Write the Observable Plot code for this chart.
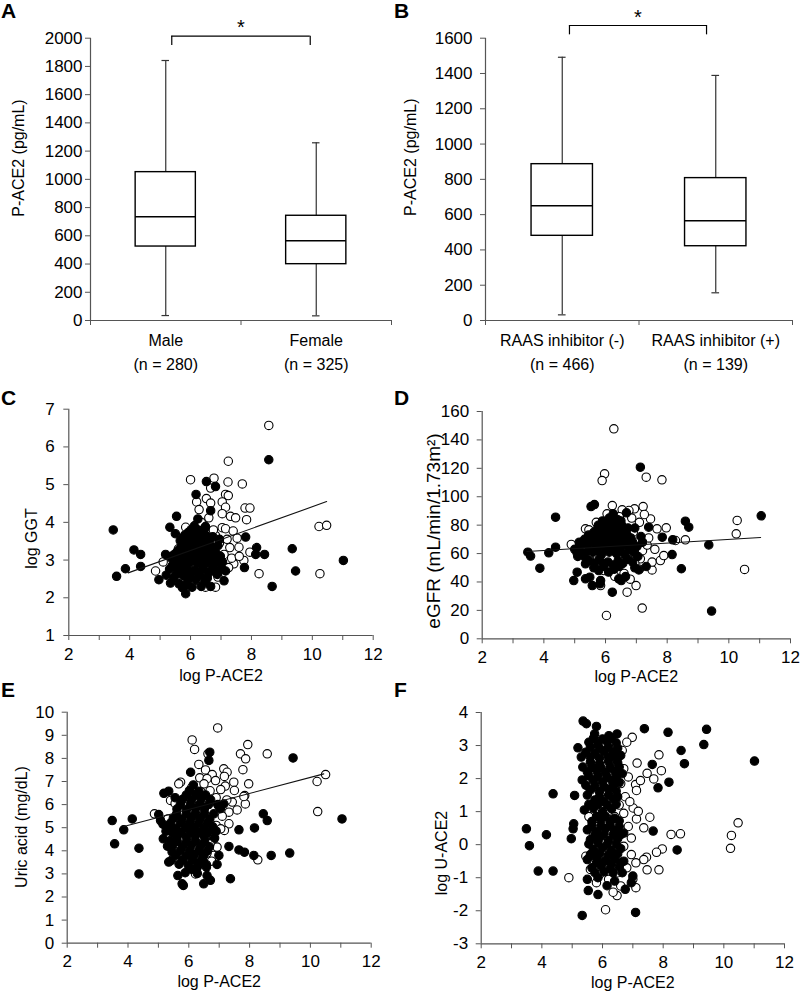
<!DOCTYPE html>
<html><head><meta charset="utf-8">
<script src="https://cdn.jsdelivr.net/npm/d3@7"></script>
<script src="https://cdn.jsdelivr.net/npm/@observablehq/plot@0.6"></script>
<style>
body{margin:0;background:#fff;}
#fig{position:relative;width:800px;height:994px;background:#fff;font-family:"Liberation Sans",Arial,sans-serif;}
.panel{position:absolute;}
.letter{position:absolute;font-weight:bold;font-size:21px;line-height:21px;color:#000;}
</style></head><body><div id="fig"></div>
<script>
// ---------- Panel A: P-ACE2 by sex ----------
const sexGroups = ["Male", "Female"];
const sexN = ["(n = 280)", "(n = 325)"];
const sexMin = [35, 33];
const sexQ1 = [524, 399];
const sexMed = [735, 565];
const sexQ3 = [1051, 742];
const sexMax = [1842, 1259];
const yTicksA = [0, 200, 400, 600, 800, 1000, 1200, 1400, 1600, 1800, 2000];

// ---------- Panel B: P-ACE2 by RAAS inhibitor ----------
const raasGroups = ["RAAS inhibitor (-)", "RAAS inhibitor (+)"];
const raasN = ["(n = 466)", "(n = 139)"];
const raasMin = [32, 157];
const raasQ1 = [480, 421];
const raasMed = [650, 565];
const raasQ3 = [886, 807];
const raasMax = [1492, 1389];
const yTicksB = [0, 200, 400, 600, 800, 1000, 1200, 1400, 1600];

// ---------- Scatter common ----------
const xTicks = [2, 3, 4, 5, 6, 7, 8, 9, 10, 11, 12];

// Panel C: log GGT vs log P-ACE2
const cOpen = [[8.57,6.57],[7.24,5.62],[6.00,5.13],[6.77,5.17],[6.66,4.91],[7.23,5.07],[7.70,5.02],[7.15,4.74],[7.24,4.71],[6.52,4.63],[6.20,4.54],[6.66,4.51],[7.04,4.54],[6.28,4.34],[7.15,4.40],[7.79,4.38],[7.95,4.38],[7.04,4.23],[7.31,4.16],[7.48,4.12],[7.84,4.07],[6.60,4.12],[5.84,3.87],[6.16,3.92],[7.04,3.86],[7.15,3.83],[7.40,3.77],[10.22,3.89],[10.47,3.92],[7.53,3.58],[6.82,3.65],[7.95,3.21],[7.59,3.34],[7.29,3.33],[4.85,2.71],[7.42,2.90],[7.75,2.99],[10.25,2.64],[8.25,2.64],[6.49,2.28],[6.82,2.28],
[6.95,3.45],[7.10,3.15],[6.90,3.00],[7.20,3.55],[6.75,3.80],[7.00,2.75],[6.40,3.75],[6.10,3.60],[5.60,3.30],[5.40,3.10],[5.75,2.55],[6.25,2.45],[7.25,2.80],[6.55,3.30],[7.35,3.05],[5.10,2.95],[6.90,2.55],[7.60,3.10],[6.35,4.00]];
const cFilled = [[8.57,5.66],[6.52,5.08],[6.82,4.95],[6.18,4.74],[6.66,4.31],[5.54,4.16],[6.24,4.09],[3.46,3.80],[5.32,3.87],[6.49,3.89],[7.81,3.61],[4.14,3.27],[4.36,3.15],[9.34,3.30],[11.02,2.99],[8.17,3.33],[8.43,3.15],[8.14,3.15],[5.18,3.15],[4.36,2.83],[3.86,2.77],[3.57,2.57],[7.15,2.71],[7.77,2.80],[9.45,2.71],[8.68,2.30],[4.96,2.48],[5.34,2.39],[5.62,2.37],[5.84,2.11],[5.73,2.27],[6.35,2.30],[6.66,2.30],[6.05,2.28],[5.84,2.33],
[5.92,2.45],[6.18,2.48],[6.47,2.43],[5.52,2.62],[5.77,2.58],[6.02,2.63],[6.31,2.60],[6.58,2.64],[6.88,2.62],[5.31,2.76],[5.58,2.74],[5.86,2.78],[6.12,2.73],[6.41,2.77],[6.69,2.75],[7.02,2.78],[5.46,2.91],[5.71,2.88],[5.97,2.93],[6.23,2.90],[6.52,2.92],[6.79,2.89],[5.36,3.06],[5.62,3.04],[5.84,3.08],[6.11,3.03],[6.37,3.07],[6.61,3.05],[6.88,3.02],[5.55,3.21],[5.82,3.19],[6.06,3.23],[6.31,3.20],[6.56,3.22],[6.84,3.18],[5.72,3.36],[5.96,3.34],[6.21,3.37],[6.46,3.35],[6.72,3.33],[5.66,3.51],[5.91,3.49],[6.16,3.52],[6.41,3.50],[6.63,3.53],[5.81,3.66],[6.06,3.64],[6.32,3.68],[6.54,3.63],[6.02,3.81],[6.27,3.79],[6.47,3.84],
[5.45,2.53],[5.65,2.68],[5.95,2.70],[6.27,2.68],[6.55,2.52],[6.80,2.70],[7.05,2.95],[5.52,2.98],[5.78,2.97],[6.05,2.99],[6.35,2.98],[6.70,2.97],[6.98,3.10],[5.45,3.14],[5.70,3.13],[5.97,3.13],[6.24,3.12],[6.49,3.14],[6.75,3.11],[5.62,3.28],[5.86,3.27],[6.10,3.28],[6.37,3.28],[6.60,3.28],[6.90,3.38],[5.78,3.43],[6.05,3.43],[6.30,3.43],[6.55,3.44],[5.75,3.59],[6.00,3.57],[6.24,3.59],[6.50,3.58],[6.73,3.62],[5.92,3.73],[6.18,3.72],[6.42,3.73],[6.12,3.90],[5.50,3.70],[5.40,2.85],[5.20,2.60],[7.10,2.45],[6.95,3.55]];
const cFit = [[3.95,2.66],[10.47,4.55]];
const yTicksC = [1, 2, 3, 4, 5, 6, 7];

// Panel D: eGFR vs log P-ACE2
const dOpen = [[6.27,147.8],[5.97,116.1],[5.89,111.4],[7.32,113.8],[7.83,111.9],[10.27,83.3],[10.24,73.9],[8.59,69.7],[8.27,69.2],[10.51,48.8],[6.03,16.4],[7.19,21.6],[6.99,37.5],[6.70,32.8],[4.89,66.4],[5.84,37.5],[7.51,48.5],[7.13,56.3],[7.51,54.0],[7.78,55.1],[7.89,58.6],[7.67,77.4],[7.97,78.1],[7.46,84.4],[7.22,93.1],[7.26,87.5],[6.94,91.5],[6.76,90.3],[6.54,90.8],[6.22,93.8],[5.35,77.4],[5.46,76.7],
[6.90,75],[7.10,82],[7.00,68],[7.20,62],[6.85,85],[5.55,72],[7.35,66],[6.95,53],[7.10,49],[6.60,46],[6.30,44],[5.95,48],[7.40,71],[6.45,86],[6.05,88],[5.75,57],[7.60,63],[6.80,42],[5.70,82],[6.95,60]];
const dFilled = [[7.13,120.8],[5.53,93.1],[5.64,94.5],[4.38,85.6],[11.05,86.6],[8.59,82.8],[8.70,78.6],[8.18,69.7],[7.84,71.5],[9.35,66.1],[8.46,49.3],[8.16,59.3],[9.44,19.5],[6.22,32.8],[3.48,61.0],[3.57,58.2],[3.87,49.7],[4.16,60.5],[4.38,64.5],[5.08,60.3],[4.97,41.0],[5.08,46.9],[5.35,52.8],[5.35,42.2],[5.49,43.4],[5.57,37.5],[5.84,41.0],[5.82,38.7],[6.43,42.2],[6.51,41.0],[6.65,43.8],[7.08,48.5],[7.32,50.9],[7.40,78.6],[6.68,88.7],
[5.62,50],[5.93,51],[6.28,49],[5.48,55],[5.79,56],[6.08,54],[6.41,55],[6.72,56],[5.28,60],[5.58,61],[5.86,59],[6.12,61],[6.36,60],[6.63,59],[6.91,61],[5.18,65],[5.43,66],[5.71,64],[5.96,66],[6.21,65],[6.47,64],[6.73,66],[7.02,65],[5.32,70],[5.57,71],[5.82,69],[6.06,71],[6.31,70],[6.56,69],[6.82,71],[5.62,75],[5.87,76],[6.11,74],[6.36,75],[6.61,76],[5.77,80],[6.02,81],[6.27,79],[6.52,80],[6.12,85],[6.38,84],[5.00,63],[5.15,68],[7.15,72],[6.95,78],[7.05,58],
[5.78,48],[6.10,47],[6.45,51],[5.35,57],[5.65,53],[5.95,53],[6.25,52],[6.56,53],[6.88,54],[5.45,62],[5.72,62],[5.99,63],[6.25,62],[6.50,62],[6.78,63],[5.30,67],[5.58,68],[5.84,67],[6.09,68],[6.34,67],[6.60,67],[6.88,68],[5.45,73],[5.70,73],[5.95,73],[6.20,72],[6.45,73],[6.70,73],[5.75,78],[6.00,78],[6.24,77],[6.48,78],[6.73,78],[5.90,83],[6.20,82],[6.50,83],[6.25,88],[5.10,58],[6.95,50],[7.20,68]];
const dFit = [[3.45,61.5],[11.03,71.3]];
const yTicksD = [0, 20, 40, 60, 80, 100, 120, 140, 160];

// Panel E: uric acid vs log P-ACE2
const eOpen = [[6.95,9.32],[6.11,8.80],[6.19,8.39],[6.63,8.20],[7.94,8.60],[7.70,8.20],[7.87,7.98],[8.58,8.20],[10.50,7.30],[10.22,7.00],[10.24,5.70],[7.78,7.51],[7.97,6.90],[7.84,6.39],[7.86,6.03],[8.27,3.61],[4.87,5.60],[6.22,3.00],[6.82,3.80],[5.73,6.97],[5.67,6.90],[6.33,7.74],[6.55,7.50],[6.77,7.30],[7.15,7.55],[7.26,7.40],[6.36,7.16],[6.60,7.12],[6.88,7.04],[7.17,7.22],[7.48,6.97],[7.50,6.61],[7.43,6.11],[7.59,5.77],[7.32,5.67],[7.81,6.35],[7.32,5.17],[7.17,4.88],[6.82,4.52],[6.93,4.16],[5.40,6.18],[5.31,5.38],
[6.50,6.90],[6.70,6.60],[6.90,6.30],[7.00,5.90],[7.10,5.50],[6.90,5.10],[6.80,4.70],[6.70,4.30],[6.60,3.90],[6.45,3.60],[6.25,3.25],[5.90,6.35],[5.55,6.05],[7.20,6.80],[7.05,6.65],[6.40,6.55],[6.10,6.75],[7.25,6.20],[7.05,4.95],[6.75,3.55]];
const eFilled = [[6.69,8.27],[6.66,7.91],[9.43,8.02],[11.04,5.38],[8.45,5.60],[8.58,5.31],[8.16,4.99],[7.65,4.91],[7.32,4.19],[7.65,4.04],[7.83,3.94],[8.14,3.80],[8.71,3.80],[9.32,3.90],[7.37,2.79],[3.48,5.31],[4.14,5.38],[3.86,4.91],[3.56,4.30],[4.36,4.11],[4.36,3.00],[5.01,5.57],[5.07,5.31],[5.16,4.52],[5.42,3.58],[5.34,3.51],[5.64,2.93],[5.78,2.57],[5.82,2.50],[6.49,2.57],[6.71,2.72],[6.28,3.29],[6.58,3.29],[6.60,2.93],[6.93,3.41],[6.99,3.80],[5.18,6.49],[5.34,6.58],[6.06,7.40],[7.15,6.03],[7.04,5.82],
[5.88,3.05],[6.28,3.02],[5.68,3.42],[5.98,3.38],[6.31,3.44],[6.58,3.40],[5.58,3.81],[5.91,3.78],[6.19,3.83],[6.49,3.79],[5.47,4.22],[5.79,4.18],[6.08,4.23],[6.38,4.20],[6.68,4.17],[5.62,4.61],[5.93,4.58],[6.21,4.63],[6.52,4.60],[5.31,5.02],[5.58,4.98],[5.89,5.03],[6.18,5.00],[6.48,4.97],[6.79,5.04],[5.49,5.41],[5.78,5.38],[6.09,5.43],[6.39,5.40],[6.69,5.37],[5.61,5.81],[5.92,5.78],[6.22,5.83],[6.51,5.80],[5.79,6.22],[6.08,6.19],[6.41,6.24],[6.72,6.21],[6.02,6.61],[6.33,6.58],[5.25,4.85],[5.45,3.95],[6.85,4.55],[6.95,6.00],[5.40,4.45],
[6.10,3.20],[5.80,3.60],[6.12,3.60],[6.42,3.60],[5.72,4.00],[6.03,4.00],[6.33,4.01],[6.60,3.98],[5.62,4.41],[5.93,4.40],[6.22,4.42],[6.52,4.40],[5.45,4.80],[5.76,4.80],[6.06,4.81],[6.35,4.79],[6.65,4.80],[5.40,5.20],[5.72,5.21],[6.02,5.20],[6.32,5.21],[6.62,5.19],[5.60,5.60],[5.92,5.60],[6.22,5.62],[6.52,5.60],[6.82,5.60],[5.72,6.00],[6.05,6.00],[6.35,6.02],[6.65,6.00],[5.92,6.42],[6.22,6.40],[6.55,6.42],[6.15,6.85],[5.15,5.15],[5.30,4.20],[6.90,4.85],[5.55,6.30]];
const eFit = [[3.86,5.05],[10.44,7.33]];
const yTicksE = [0, 1, 2, 3, 4, 5, 6, 7, 8, 9, 10];

// Panel F: log U-ACE2 vs log P-ACE2
const fOpen = [[6.98,3.25],[7.86,2.72],[7.94,2.24],[7.69,1.99],[7.47,2.16],[7.14,2.47],[7.09,1.82],[7.12,1.64],[7.25,1.94],[5.55,1.99],[7.56,0.83],[7.36,0.51],[7.12,0.78],[7.01,1.11],[7.18,1.01],[8.26,0.31],[8.57,0.33],[10.47,0.66],[10.25,0.28],[10.22,-0.11],[7.97,-0.13],[7.78,-0.23],[7.45,-0.38],[7.36,-0.45],[7.86,-0.76],[7.47,-0.76],[4.89,-1.00],[6.48,-1.54],[6.35,-1.44],[6.10,-1.97],
[6.80,3.10],[6.65,2.85],[6.70,2.30],[6.85,2.05],[6.60,1.85],[6.75,1.45],[6.55,1.20],[6.90,1.30],[6.70,0.95],[5.55,0.85],[5.85,0.55],[5.70,0.30],[6.85,0.55],[6.95,0.20],[6.70,-0.05],[6.95,-0.30],[7.10,-0.55],[6.80,-0.70],[6.50,-0.85],[6.20,-1.05],[5.90,-0.90],[5.60,-0.75],[5.45,-0.35],[5.80,-1.15],[6.60,-1.25],[7.00,-1.05],[7.10,-1.30],[6.30,-0.40],[5.95,0.10],[6.40,0.85]];
const fFilled = [[5.36,3.74],[5.47,3.66],[5.80,3.58],[5.19,2.93],[6.21,3.30],[6.48,3.35],[5.74,3.35],[7.38,3.51],[8.16,3.40],[9.43,3.49],[9.34,3.03],[11.01,2.53],[8.59,2.85],[8.70,2.45],[8.19,1.89],[7.64,2.43],[7.83,1.72],[4.37,1.54],[5.08,1.49],[5.33,1.96],[7.67,0.41],[8.46,-0.16],[3.49,0.48],[4.15,0.30],[3.59,-0.03],[4.97,0.18],[5.05,0.63],[5.03,0.48],[3.88,-0.80],[4.37,-0.80],[5.53,-1.39],[5.85,-1.51],[6.15,-1.24],[7.09,-2.05],[5.33,-2.14],
[5.55,3.10],[5.85,3.05],[6.15,3.12],[6.45,3.08],[5.45,2.80],[5.75,2.75],[6.05,2.82],[6.35,2.78],[6.60,2.70],[5.60,2.50],[5.90,2.45],[6.20,2.52],[6.50,2.48],[5.50,2.20],[5.80,2.25],[6.10,2.18],[6.40,2.22],[6.65,2.15],[5.70,1.95],[6.00,1.90],[6.30,1.95],[6.55,1.88],[5.60,1.65],[5.90,1.60],[6.20,1.68],[6.45,1.62],[5.75,1.35],[6.05,1.30],[6.35,1.38],[5.40,1.05],[5.70,1.10],[6.00,1.00],[6.30,1.08],
[5.65,0.70],[5.95,0.75],[6.25,0.68],[6.55,0.72],[5.50,0.45],[5.80,0.40],[6.10,0.48],[6.40,0.42],[6.70,0.35],[5.60,0.15],[5.90,0.20],[6.20,0.12],[6.50,0.18],[5.70,-0.15],[6.00,-0.10],[6.30,-0.18],[6.60,-0.12],[5.50,-0.45],[5.80,-0.40],[6.10,-0.48],[6.40,-0.42],[6.70,-0.50],[5.65,-0.70],[5.95,-0.65],[6.25,-0.72],[6.55,-0.68],[5.85,-1.00],[6.40,-1.10],[6.95,-1.15],[6.75,-1.35],[5.50,-1.05],[7.00,-0.95],
[5.70,3.22],[6.00,3.20],[6.30,3.22],[5.60,2.95],[5.90,2.92],[6.20,2.95],[6.50,2.92],[5.30,2.65],[5.60,2.65],[5.90,2.62],[6.20,2.65],[6.45,2.62],[5.35,2.35],[5.65,2.35],[5.95,2.33],[6.25,2.35],[6.55,2.35],[5.55,2.08],[5.85,2.08],[6.15,2.05],[6.45,2.05],[5.45,1.80],[5.75,1.78],[6.05,1.75],[6.35,1.80],[5.50,1.50],[5.90,1.45],[6.20,1.50],[6.50,1.45],[5.55,1.22],[5.85,1.22],[6.15,1.20],[6.45,1.22],
[5.80,0.85],[6.10,0.85],[6.40,0.80],[5.65,0.58],[5.95,0.58],[6.25,0.58],[6.55,0.55],[5.75,0.30],[6.05,0.32],[6.35,0.30],[6.60,0.30],[5.55,0.02],[5.85,0.05],[6.15,0.00],[6.45,0.02],[5.60,-0.30],[5.90,-0.28],[6.20,-0.30],[6.50,-0.28],[5.80,-0.55],[6.00,-0.55],[6.30,-0.58],[6.60,-0.55],[5.75,-0.85],[6.05,-0.82],[6.35,-0.85],[6.65,-0.85]];
const yTicksF = [-3, -2, -1, 0, 1, 2, 3, 4];

// ---------- rendering ----------
const FONT = '"Liberation Sans", Arial, sans-serif';
const AXIS = "#555";
const fig = document.getElementById("fig");

function place(node, left, top, w) {
  const d = document.createElement("div");
  d.className = "panel";
  d.style.left = left + "px"; d.style.top = top + "px"; d.style.width = w + "px";
  d.appendChild(node);
  fig.appendChild(d);
}
function letter(t, left, top) {
  const d = document.createElement("div");
  d.className = "letter"; d.textContent = t;
  d.style.left = left + "px"; d.style.top = top + "px";
  fig.appendChild(d);
}
function yTitle(label, cfg) {
  return Plot.text([label], {frameAnchor: "top-left", text: d => d, rotate: -90,
    dx: cfg.labX - cfg.ml, dy: cfg.labY - cfg.mt, fontSize: cfg.labSize || 16, textAnchor: "middle", lineAnchor: "middle", fill: "black"});
}

function boxPanel(cfg) {
  const rows = cfg.groups.map((g, i) => ({g, n: cfg.ns[i], i, min: cfg.mins[i], q1: cfg.q1s[i], med: cfg.meds[i], q3: cfg.q3s[i], max: cfg.maxs[i]}));
  const cx = d => d.i + 0.5;
  const br = cfg.bracket;
  return Plot.plot({
    width: cfg.width, height: cfg.height,
    marginTop: cfg.mt, marginRight: cfg.mr, marginBottom: cfg.mb, marginLeft: cfg.ml,
    style: {fontFamily: FONT, fontSize: "17px", background: "white", color: "black", overflow: "visible"},
    x: {domain: [0, 2]}, y: {domain: [0, cfg.yMax]},
    marks: [
      Plot.ruleX(rows, {x: cx, y1: "min", y2: "q1", stroke: "#333", strokeWidth: 1.2}),
      Plot.ruleX(rows, {x: cx, y1: "q3", y2: "max", stroke: "#333", strokeWidth: 1.2}),
      Plot.ruleY(rows, {x1: d => d.i + 0.475, x2: d => d.i + 0.525, y: "min", stroke: "#333", strokeWidth: 1.2}),
      Plot.ruleY(rows, {x1: d => d.i + 0.475, x2: d => d.i + 0.525, y: "max", stroke: "#333", strokeWidth: 1.2}),
      Plot.rect(rows, {x1: d => d.i + 0.3, x2: d => d.i + 0.7, y1: "q1", y2: "q3", fill: "white", stroke: "black", strokeWidth: 1.4}),
      Plot.ruleY(rows, {x1: d => d.i + 0.3, x2: d => d.i + 0.7, y: "med", stroke: "black", strokeWidth: 1.4}),
      Plot.ruleX([0], {stroke: AXIS, strokeWidth: 1.2}),
      Plot.ruleY([0], {stroke: AXIS, strokeWidth: 1.2}),
      Plot.axisY({ticks: cfg.yTicks, tickSize: 5, tickPadding: cfg.tickPad, stroke: AXIS, tickFormat: d => String(d), label: null, fontSize: 17}),
      Plot.axisX({ticks: [0, 1, 2], tickSize: 5, tickFormat: () => "", label: null, stroke: AXIS}),
      Plot.text(rows, {x: cx, frameAnchor: "bottom", text: d => d.g + "\n" + d.n, dy: 8, lineAnchor: "top", lineHeight: 1.5, fontSize: 16}),
      Plot.ruleY([br], {x1: "x1", x2: "x2", y: "top", stroke: "black", strokeWidth: 1.2}),
      Plot.ruleX([br.x1, br.x2], {x: d => d, y1: br.tip, y2: br.top, stroke: "black", strokeWidth: 1.2}),
      Plot.text([br], {x: d => (d.x1 + d.x2) / 2, y: "star", text: () => "*", fontSize: 20, lineAnchor: "bottom"}),
      yTitle(cfg.yLabel, cfg)
    ]
  });
}

function scatterPanel(cfg) {
  const marks = [
    Plot.ruleX([2], {stroke: AXIS, strokeWidth: 1.2}),
    Plot.ruleY([cfg.yDomain[0]], {stroke: AXIS, strokeWidth: 1.2}),
    Plot.axisY({ticks: cfg.yTicks, tickSize: 5, tickPadding: cfg.tickPad, stroke: AXIS, tickFormat: d => String(d), label: null, fontSize: 17}),
    Plot.axisX({ticks: xTicks, tickSize: 5, tickPadding: 7, stroke: AXIS, tickFormat: d => d % 2 === 0 ? String(d) : "", label: null, fontSize: 17}),
    Plot.dot(cfg.open, {x: d => d[0], y: d => d[1], r: 4.2, fill: "white", stroke: "black", strokeWidth: 1.1}),
    Plot.dot(cfg.filled, {x: d => d[0], y: d => d[1], r: 4.2, fill: "black", stroke: "black", strokeWidth: 1.1})
  ];
  if (cfg.fit) marks.push(Plot.line(cfg.fit, {x: d => d[0], y: d => d[1], stroke: "#111", strokeWidth: 1.1}));
  marks.push(Plot.text(["log P-ACE2"], {frameAnchor: "bottom", text: d => d, dy: cfg.xlabDy, lineAnchor: "bottom", fontSize: 16}));
  marks.push(yTitle(cfg.yLabel, cfg));
  return Plot.plot({
    width: cfg.width, height: cfg.height,
    marginTop: cfg.mt, marginRight: cfg.mr, marginBottom: cfg.mb, marginLeft: cfg.ml,
    style: {fontFamily: FONT, fontSize: "17px", background: "white", color: "black", overflow: "visible"},
    x: {domain: [2, 12]}, y: {domain: cfg.yDomain},
    marks
  });
}

place(boxPanel({groups: sexGroups, ns: sexN, mins: sexMin, q1s: sexQ1, meds: sexMed, q3s: sexQ3, maxs: sexMax,
  yMax: 2000, yTicks: yTicksA, yLabel: "P-ACE2 (pg/mL)", width: 400, height: 380, mt: 37.7, mr: 9, mb: 60, ml: 90,
  tickPad: 3, labX: 18, labY: 157.5, bracket: {x1: 0.54, x2: 1.46, top: 2014, tip: 1948, star: 2030}}), 0, 0, 400);
place(boxPanel({groups: raasGroups, ns: raasN, mins: raasMin, q1s: raasQ1, meds: raasMed, q3s: raasQ3, maxs: raasMax,
  yMax: 1600, yTicks: yTicksB, yLabel: "P-ACE2 (pg/mL)", width: 400, height: 380, mt: 37.7, mr: 8, mb: 60, ml: 85,
  tickPad: 8, labX: 10, labY: 156.7, bracket: {x1: 0.547, x2: 1.44, top: 1672, tip: 1619, star: 1681}}), 400, 0, 400);
place(scatterPanel({open: cOpen, filled: cFilled, fit: cFit, yDomain: [1, 7], yTicks: yTicksC, yLabel: "log GGT",
  width: 400, height: 305, mt: 28.7, mr: 27.3, mb: 50, ml: 68.3, tickPad: 9, labX: 31, labY: 158, xlabDy: 45}), 0, 380, 400);
place(scatterPanel({open: dOpen, filled: dFilled, fit: dFit, yDomain: [0, 160], yTicks: yTicksD, yLabel: "eGFR (mL/min/1.73m²)",
  width: 400, height: 305, mt: 31, mr: 10, mb: 46.7, ml: 81.7, tickPad: 8, labX: 33, labY: 150.5, labSize: 19, xlabDy: 42.7}), 400, 380, 400);
place(scatterPanel({open: eOpen, filled: eFilled, fit: eFit, yDomain: [0, 10], yTicks: yTicksE, yLabel: "Uric acid (mg/dL)",
  width: 400, height: 309, mt: 26.7, mr: 29.3, mb: 51.3, ml: 66.7, tickPad: 8, labX: 21.7, labY: 141.5, xlabDy: 43.3}), 0, 685, 400);
place(scatterPanel({open: fOpen, filled: fFilled, fit: null, yDomain: [-3, 4], yTicks: yTicksF, yLabel: "log U-ACE2",
  width: 400, height: 309, mt: 27, mr: 16, mb: 50.7, ml: 80.7, tickPad: 8, labX: 41.7, labY: 167.5, xlabDy: 43.7}), 400, 685, 400);

letter("A", 1, 0); letter("B", 394, 0);
letter("C", 1, 387); letter("D", 394, 387);
letter("E", 1, 679); letter("F", 394, 679);
</script></body></html>
